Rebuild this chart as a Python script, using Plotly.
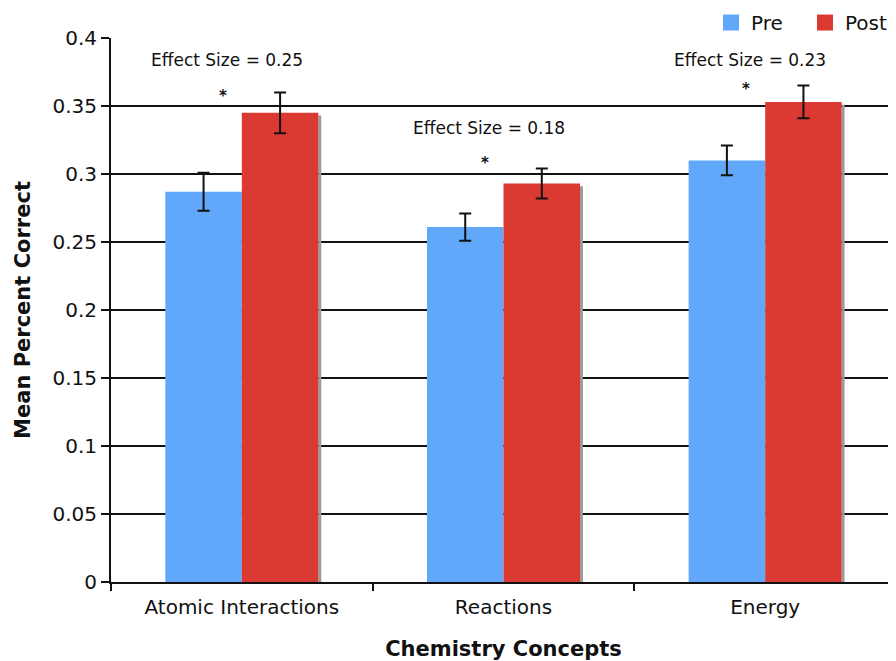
import plotly.graph_objects as go

categories = ["Atomic Interactions", "Reactions", "Energy"]
pre_values = [0.287, 0.261, 0.310]
pre_errors = [0.014, 0.010, 0.011]
post_values = [0.345, 0.293, 0.353]
post_errors = [0.015, 0.011, 0.012]
effect_labels = ["Effect Size = 0.25", "Effect Size = 0.18", "Effect Size = 0.23"]
effect_label_y = [0.384, 0.334, 0.384]
star_y = [0.358, 0.309, 0.363]
y_tick_vals = [0, 0.05, 0.1, 0.15, 0.2, 0.25, 0.3, 0.35, 0.4]
y_tick_text = ["0", "0.05", "0.1", "0.15", "0.2", "0.25", "0.3", "0.35", "0.4"]

BLUE = "#62a8fa"
RED = "#db3a33"
FONT = "DejaVu Sans"
BARGAP = 0.415
err_style = dict(type="data", color="#111111", thickness=2, width=6, visible=True)

fig = go.Figure()
fig.add_trace(go.Bar(
    x=categories, y=pre_values, name="Pre", marker=dict(color=BLUE, line=dict(width=0)),
    error_y=dict(array=pre_errors, **err_style), showlegend=False,
))
fig.add_trace(go.Bar(
    x=categories, y=post_values, name="Post", marker=dict(color=RED, line=dict(width=0)),
    error_y=dict(array=post_errors, **err_style), showlegend=False,
))
# legend entries with larger square swatches
fig.add_trace(go.Scatter(x=[None], y=[None], mode="markers", name="Pre",
                         marker=dict(symbol="square", size=16, color=BLUE)))
fig.add_trace(go.Scatter(x=[None], y=[None], mode="markers", name="Post",
                         marker=dict(symbol="square", size=16, color=RED)))

# subtle drop shadow on the right edge of the Post bars
half_group = (1 - BARGAP) / 2
for i, v in enumerate(post_values):
    fig.add_shape(type="rect", xref="x", yref="y",
                  x0=i + half_group, x1=i + half_group + 0.011,
                  y0=0, y1=v - 0.002, line=dict(width=0),
                  fillcolor="#9a9a9a", layer="between")

for cat, lab, ly, sy in zip(categories, effect_labels, effect_label_y, star_y):
    fig.add_annotation(x=cat, y=ly, text=lab, showarrow=False, xshift=-15,
                       font=dict(family=FONT, size=17, color="#111111"))
    fig.add_annotation(x=cat, y=sy, text="<b>*</b>", showarrow=False, xshift=-19, yshift=-1,
                       font=dict(family=FONT, size=15, color="#111111"))

fig.update_layout(
    width=888, height=653,
    margin=dict(l=103, r=0, t=30, b=79, autoexpand=False),
    paper_bgcolor="white", plot_bgcolor="white",
    barmode="group", bargap=BARGAP, bargroupgap=0,
    font=dict(family=FONT, size=20, color="#111111"),
    showlegend=True,
    legend=dict(orientation="h", x=1.0038, xanchor="right", y=0.9926, yanchor="bottom",
                font=dict(family=FONT, size=20, color="#111111"),
                entrywidth=49, entrywidthmode="pixels",
                itemwidth=30, tracegroupgap=0, bgcolor="rgba(0,0,0,0)",
                borderwidth=0),
    xaxis=dict(
        type="category", range=[-0.5, 2.5],
        showline=True, linecolor="#111111", linewidth=2,
        ticks="outside", tickson="boundaries", ticklen=7, tickwidth=2, tickcolor="#111111",
        ticklabelstandoff=6,
        showgrid=False,
        tickfont=dict(family=FONT, size=20, color="#111111"),
        title=dict(text="<b>Chemistry Concepts</b>", standoff=25,
                   font=dict(family=FONT, size=21, color="#111111")),
    ),
    yaxis=dict(
        range=[0, 0.4], tickvals=y_tick_vals, ticktext=y_tick_text,
        showline=True, linecolor="#111111", linewidth=2,
        ticks="outside", ticklen=8, tickwidth=2, tickcolor="#111111",
        showgrid=True, gridcolor="#111111", gridwidth=2,
        zeroline=False,
        tickfont=dict(family=FONT, size=20, color="#111111"),
        title=dict(text="<b>Mean Percent Correct</b>", standoff=16,
                   font=dict(family=FONT, size=21, color="#111111")),
    ),
)

fig.write_html("out.html")
